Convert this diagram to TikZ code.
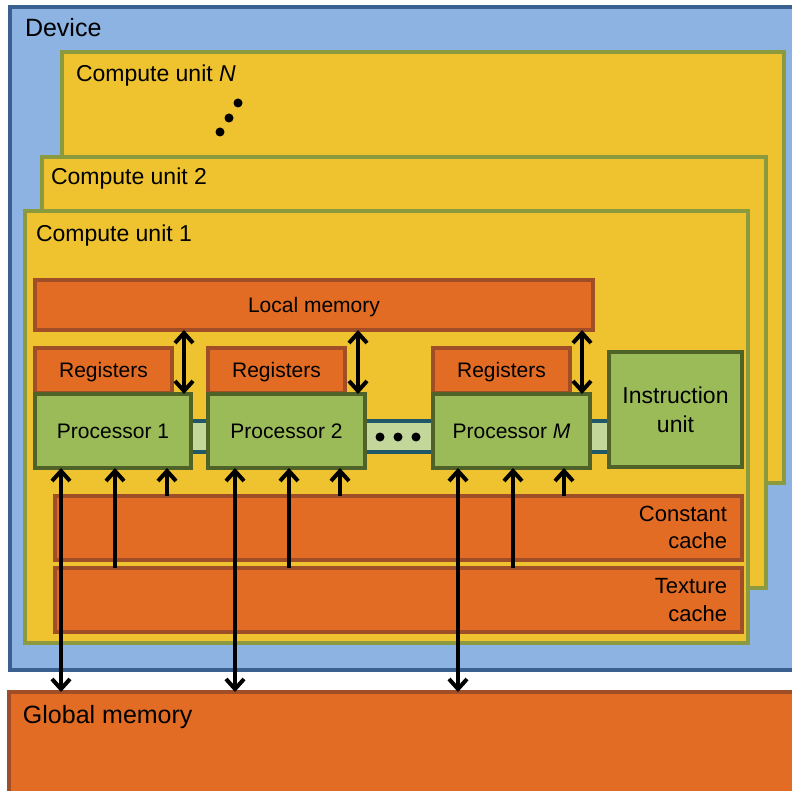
\documentclass[tikz,border=0pt]{standalone}
\usepackage{fontspec}
\setmainfont{Liberation Sans}
\usetikzlibrary{arrows.meta}
\definecolor{devfill}{HTML}{8DB3E2}
\definecolor{devline}{HTML}{3A6090}
\definecolor{cufill}{HTML}{EEC32F}
\definecolor{culine}{HTML}{8C9A3F}
\definecolor{orfill}{HTML}{E36C25}
\definecolor{orline}{HTML}{A04E28}
\definecolor{grfill}{HTML}{9BBB59}
\definecolor{grline}{HTML}{4F6228}
\definecolor{busfill}{HTML}{C4D79B}
\definecolor{busline}{HTML}{205867}
\begin{document}
\begin{tikzpicture}[x=1pt,y=-1pt,
  box/.style={draw, line width=4pt, inner sep=0pt, outer sep=0pt, anchor=north west},
  orbox/.style={box, fill=orfill, draw=orline},
  grbox/.style={box, fill=grfill, draw=grline},
  cubox/.style={box, line width=3.5pt, fill=cufill, draw=culine},
  f21/.style={font=\fontsize{21}{25}\selectfont, text height=19pt, text depth=4.5pt},
  f22/.style={font=\fontsize{22}{28}\selectfont},
  f23/.style={font=\fontsize{23}{29}\selectfont},
  f25/.style={font=\fontsize{25}{30}\selectfont},
  lbl/.style={inner sep=0pt, outer sep=0pt},
  uparr/.style={line width=4pt, -{Straight Barb[length=10pt,width=18pt]}},
  dblarr/.style={line width=4pt, {Straight Barb[length=10pt,width=18pt]}-{Straight Barb[length=10pt,width=18pt]}},
  dot/.style={circle, fill=black, inner sep=0pt, minimum size=9pt}
]
\useasboundingbox (0,0) rectangle (792,791);
\clip (0,0) rectangle (792,791);
% device
\node[box, line width=4pt, fill=devfill, draw=devline, minimum width=800pt, minimum height=663pt] (dev) at (10,7) {};
\node[lbl, f25, anchor=base west] (devl) at (25,37) {Device};
% global memory
\node[orbox, minimum width=800pt, minimum height=120pt] (gm) at (9,692) {};
\node[lbl, f25, anchor=base west] (gml) at (23,723) {Global memory};
% compute units
\node[cubox, minimum width=722pt, minimum height=431pt] (cun) at (62,52) {};
\node[lbl, f23, anchor=base west] (cunl) at (76,82) {Compute unit \textit{N}};
\node[dot] (d1) at (238,103) {};
\node[dot] (d2) at (229,118) {};
\node[dot] (d3) at (220,132) {};
\node[cubox, minimum width=724pt, minimum height=431pt] (cu2) at (42,157) {};
\node[lbl, f23, anchor=base west] (cu2l) at (51,185) {Compute unit 2};
\node[cubox, minimum width=723pt, minimum height=432pt] (cu1) at (25,211) {};
\node[lbl, f23, anchor=base west] (cu1l) at (36,242) {Compute unit 1};
% local memory
\node[orbox, minimum width=558pt, minimum height=50pt, f21] (lm) at (35,280) {Local memory};
% bus
\fill[busfill] (191,421) rectangle (609,452);
\draw[busline, line width=4pt] (191,421) -- (609,421);
\draw[busline, line width=4pt] (191,452) -- (609,452);
% registers
\node[orbox, minimum width=137pt, minimum height=45pt, f21] (r1) at (35,348) {Registers};
\node[orbox, minimum width=137pt, minimum height=45pt, f21] (r2) at (208,348) {Registers};
\node[orbox, minimum width=137pt, minimum height=45pt, f21] (r3) at (433,348) {Registers};
% processors
\node[grbox, minimum width=156pt, minimum height=74pt, f21] (p1) at (35,394) {Processor 1};
\node[grbox, minimum width=157pt, minimum height=74pt, f21] (p2) at (208,394) {Processor 2};
\node[grbox, minimum width=157pt, minimum height=74pt, f21] (pm) at (433,394) {Processor \textit{M}};
\node[grbox, minimum width=133pt, minimum height=115pt, f23, align=center] (iu) at (609,352) {Instruction\\unit};
% bus dots
\node[dot] (b1) at (380,437) {};
\node[dot] (b2) at (398,437) {};
\node[dot] (b3) at (416,437) {};
% caches
\node[orbox, minimum width=687pt, minimum height=64pt] (cc) at (55,496) {};
\node[lbl, f22, anchor=base east] (ccl1) at ([xshift=-15pt,yshift=-25pt]cc.north east) {Constant};
\node[lbl, f22, anchor=base east] (ccl2) at ([xshift=-15pt,yshift=-52pt]cc.north east) {cache};
\node[orbox, minimum width=687pt, minimum height=64pt] (tc) at (55,568) {};
\node[lbl, f22, anchor=base east] (tcl1) at ([xshift=-15pt,yshift=-25pt]tc.north east) {Texture};
\node[lbl, f22, anchor=base east] (tcl2) at ([xshift=-15pt,yshift=-53pt]tc.north east) {cache};
% arrow columns
\coordinate (a1) at (184,0);
\coordinate (a2) at (358,0);
\coordinate (a3) at (582,0);
\coordinate (k1) at (167,0);
\coordinate (k2) at (340,0);
\coordinate (k3) at (564,0);
\coordinate (t1) at (115,0);
\coordinate (t2) at (289,0);
\coordinate (t3) at (513,0);
\coordinate (g1) at (61,0);
\coordinate (g2) at (235,0);
\coordinate (g3) at (458,0);
% local memory <-> processors
\draw[dblarr] (a1 |- lm.south) -- (a1 |- p1.north);
\draw[dblarr] (a2 |- lm.south) -- (a2 |- p2.north);
\draw[dblarr] (a3 |- lm.south) -- (a3 |- pm.north);
% constant cache -> processors
\draw[uparr] (k1 |- cc.north) -- (k1 |- p1.south);
\draw[uparr] (k2 |- cc.north) -- (k2 |- p2.south);
\draw[uparr] (k3 |- cc.north) -- (k3 |- pm.south);
% texture cache -> processors
\draw[uparr] (t1 |- tc.north) -- (t1 |- p1.south);
\draw[uparr] (t2 |- tc.north) -- (t2 |- p2.south);
\draw[uparr] (t3 |- tc.north) -- (t3 |- pm.south);
% processors <-> global memory
\draw[dblarr] (g1 |- p1.south) -- (g1 |- gm.north);
\draw[dblarr] (g2 |- p2.south) -- (g2 |- gm.north);
\draw[dblarr] (g3 |- pm.south) -- (g3 |- gm.north);
\end{tikzpicture}
\end{document}
